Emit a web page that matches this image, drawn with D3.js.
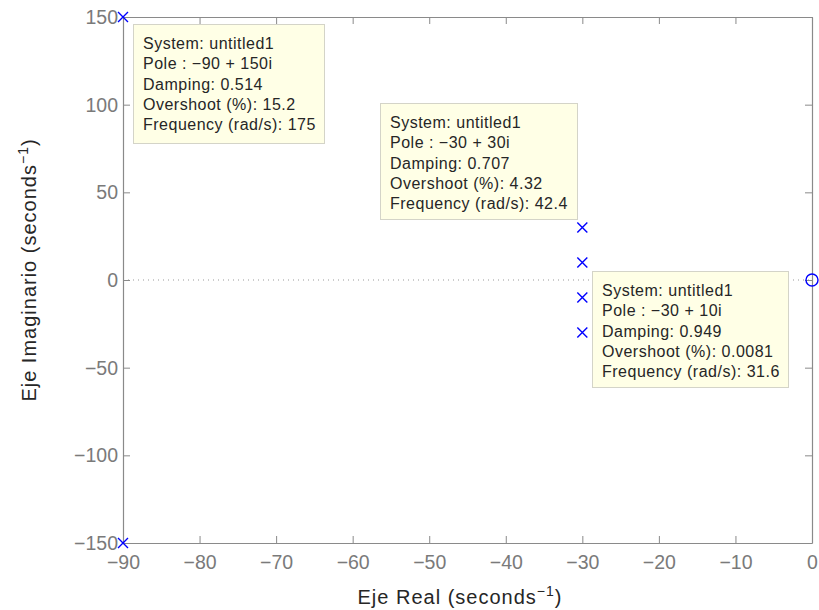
<!DOCTYPE html>
<html>
<head>
<meta charset="utf-8">
<script src="https://cdn.jsdelivr.net/npm/d3@7"></script>
<style>
  html, body { margin: 0; padding: 0; background: #fff; }
  svg { display: block; font-family: "Liberation Sans", Arial, Helvetica, sans-serif; }
</style>
</head>
<body>
<svg id="chart" width="819" height="610"></svg>
<script>
// Pole-zero map data
const poleRe = [-90, -90, -30, -30, -30, -30];
const poleIm = [150, -150, 30, 10, -10, -30];
const zeroRe = [0];
const zeroIm = [0];

const xTicks = [-90, -80, -70, -60, -50, -40, -30, -20, -10, 0];
const yTicks = [-150, -100, -50, 0, 50, 100, 150];

// Data tips: text shown for selected poles
const tipLines = [
  ["System: untitled1", "Pole : \u221290 + 150i", "Damping: 0.514", "Overshoot (%): 15.2", "Frequency (rad/s): 175"],
  ["System: untitled1", "Pole : \u221230 + 30i", "Damping: 0.707", "Overshoot (%): 4.32", "Frequency (rad/s): 42.4"],
  ["System: untitled1", "Pole : \u221230 + 10i", "Damping: 0.949", "Overshoot (%): 0.0081", "Frequency (rad/s): 31.6"]
];
// Box placement (pixels)
const tipBoxes = [
  {x: 133, y: 24, w: 191, h: 119},
  {x: 380, y: 103, w: 197, h: 116},
  {x: 592, y: 271, w: 196, h: 116}
];

const svg = d3.select("#chart");
const L = 123, R = 812, T = 17, B = 543;
const axisColor = "#8a8a8a";
const tickTextColor = "#7a7a7a";

const x = d3.scaleLinear().domain([-90, 0]).range([L, R]);
const y = d3.scaleLinear().domain([-150, 150]).range([B, T]);

// Zero reference line
svg.append("line")
  .attr("x1", L).attr("x2", R)
  .attr("y1", y(0)).attr("y2", y(0))
  .attr("stroke", "#999").attr("stroke-width", 1)
  .attr("stroke-dasharray", "1,4");

// Axes with inward ticks on all four sides
const fmt = d => d < 0 ? "\u2212" + Math.abs(d) : String(d);
const tickLen = 7;

const gx = svg.append("g").attr("transform", `translate(0,${B})`)
  .call(d3.axisBottom(x).tickValues(xTicks).tickFormat(fmt).tickSizeInner(-tickLen).tickSizeOuter(0).tickPadding(12));
const gxTop = svg.append("g").attr("transform", `translate(0,${T})`)
  .call(d3.axisTop(x).tickValues(xTicks).tickFormat("").tickSizeInner(-tickLen).tickSizeOuter(0));
const gy = svg.append("g").attr("transform", `translate(${L},0)`)
  .call(d3.axisLeft(y).tickValues(yTicks).tickFormat(fmt).tickSizeInner(-tickLen).tickSizeOuter(0).tickPadding(5));
const gyRight = svg.append("g").attr("transform", `translate(${R},0)`)
  .call(d3.axisRight(y).tickValues(yTicks).tickFormat("").tickSizeInner(-tickLen).tickSizeOuter(0));

[gx, gxTop, gy, gyRight].forEach(g => {
  g.select(".domain").attr("stroke", axisColor).attr("stroke-width", 1.2);
  g.selectAll(".tick line").attr("stroke", axisColor).attr("stroke-width", 1);
  g.selectAll(".tick text").attr("fill", tickTextColor).attr("font-size", 19.5)
    .attr("font-family", "'Liberation Sans', Arial, sans-serif");
});
gy.selectAll(".tick text").attr("dy", "0.34em");

// Axis titles
const xl = svg.append("text")
  .attr("x", 460).attr("y", 604)
  .attr("text-anchor", "middle").attr("font-size", 20).attr("letter-spacing", 1).attr("fill", "#262626");
xl.append("tspan").text("Eje Real (seconds");
xl.append("tspan").attr("font-size", 14).attr("dy", -8).text("\u22121");
xl.append("tspan").attr("dy", 8).text(")");

const yl = svg.append("text")
  .attr("transform", `translate(36,270) rotate(-90)`)
  .attr("text-anchor", "middle").attr("font-size", 20).attr("letter-spacing", 1).attr("fill", "#262626");
yl.append("tspan").text("Eje Imaginario (seconds");
yl.append("tspan").attr("font-size", 14).attr("dy", -8).text("\u22121");
yl.append("tspan").attr("dy", 8).text(")");

// Poles as crosses
const s = 5;
const poles = svg.append("g").attr("stroke", "#0000ff").attr("stroke-width", 1.4);
poleRe.forEach((re, i) => {
  const px = x(re), py = y(poleIm[i]);
  poles.append("path").attr("d", `M${px - s},${py - s}L${px + s},${py + s}M${px - s},${py + s}L${px + s},${py - s}`);
});

// Zeros as circles
zeroRe.forEach((re, i) => {
  svg.append("circle").attr("cx", x(re)).attr("cy", y(zeroIm[i])).attr("r", 6)
    .attr("fill", "none").attr("stroke", "#0000ff").attr("stroke-width", 1.4);
});

// Data tip boxes
tipLines.forEach((lines, k) => {
  const b = tipBoxes[k];
  const g = svg.append("g");
  g.append("rect").attr("x", b.x + 0.5).attr("y", b.y + 0.5).attr("width", b.w).attr("height", b.h)
    .attr("fill", "#ffffe6").attr("stroke", "#d4d4c8").attr("stroke-width", 1);
  lines.forEach((ln, j) => {
    g.append("text").attr("x", b.x + 10).attr("y", b.y + 25 + j * 20.3)
      .attr("font-size", 16).attr("letter-spacing", 0.5).attr("fill", "#262626").text(ln);
  });
});
</script>
</body>
</html>
